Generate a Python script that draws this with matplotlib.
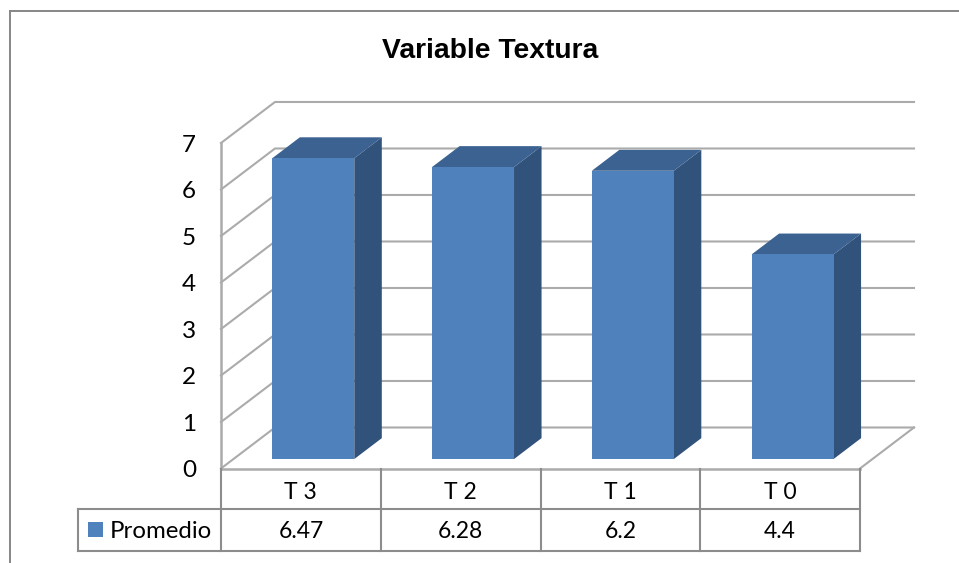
import matplotlib
matplotlib.use("Agg")
import matplotlib.pyplot as plt
from matplotlib.lines import Line2D
from matplotlib.patches import Polygon, Rectangle

categories = ["T 3", "T 2", "T 1", "T 0"]
values = [6.47, 6.28, 6.2, 4.4]
value_labels = ["6.47", "6.28", "6.2", "4.4"]
y_ticks = [0, 1, 2, 3, 4, 5, 6, 7]
series_name = "Promedio"
title = "Variable Textura"

W, H = 959, 563
GRID = "#ababab"
TABLE = "#8c8c8c"
FONT = "Lato"

# depth of the 3d box, in data units
DX = 0.338
DY = 0.882
BAR_W = 0.513
BAR_D0 = 0.23
BAR_D1 = 0.74
ROW1 = -0.871
ROW2 = -1.768
TABLE_LEFT = -0.895


def proj(x, y, d=0):
    return (x + d * DX, y + d * DY)


fig = plt.figure(figsize=(W / 100, H / 100), dpi=100)
ax = fig.add_axes([221 / W, 1 - 468.5 / H, 639 / W, 325.5 / H])
ax.set_xlim(0, 4)
ax.set_ylim(0, 7)
ax.axis("off")

# outer frame, only top and left are visible
fig.add_artist(Line2D([9.5 / W, 9.5 / W], [0, 1 - 10 / H], color="#868686", lw=1.4, solid_capstyle="butt"))
fig.add_artist(Line2D([9 / W, 1], [1 - 10.5 / H, 1 - 10.5 / H], color="#868686", lw=1.4, solid_capstyle="butt"))

# walls and floor
for t in y_ticks:
    a = proj(0, t)
    b = proj(0, t, 1)
    c = proj(4, t, 1)
    ax.plot([a[0], b[0], c[0]], [a[1], b[1], c[1]], color=GRID, lw=1.5, clip_on=False, zorder=1)
f = proj(4, 0)
g = proj(4, 0, 1)
ax.plot([f[0], g[0]], [f[1], g[1]], color=GRID, lw=1.5, clip_on=False, zorder=1)
ax.plot([0, 0], [0, 7], color=GRID, lw=1.8, clip_on=False, zorder=2)
ax.plot([0, 4], [0, 0], color=GRID, lw=1.8, clip_on=False, zorder=2)

# bars
for i, v in enumerate(values):
    x0 = i + 0.5 - BAR_W / 2
    x1 = i + 0.5 + BAR_W / 2
    front = [proj(x0, 0, BAR_D0), proj(x1, 0, BAR_D0), proj(x1, v, BAR_D0), proj(x0, v, BAR_D0)]
    top = [proj(x0, v, BAR_D0), proj(x1, v, BAR_D0), proj(x1, v, BAR_D1), proj(x0, v, BAR_D1)]
    side = [proj(x1, 0, BAR_D0), proj(x1, 0, BAR_D1), proj(x1, v, BAR_D1), proj(x1, v, BAR_D0)]
    ax.add_patch(Polygon(side, closed=True, fc="#31527b", ec="none", zorder=3, clip_on=False))
    ax.add_patch(Polygon(top, closed=True, fc="#3b6291", ec="none", zorder=3, clip_on=False))
    ax.add_patch(Polygon(front, closed=True, fc="#4f81bd", ec="none", zorder=4, clip_on=False))

# y labels
for t in y_ticks:
    ax.annotate(str(t), (0, t), xytext=(-18, -1.5), textcoords="offset points", ha="right", va="center",
                fontsize=17.5, family=FONT, color="black", annotation_clip=False)

# data table
for x in range(5):
    ax.plot([x, x], [0, ROW2], color=TABLE, lw=1.5, clip_on=False, zorder=2)
ax.plot([TABLE_LEFT, 4], [ROW1, ROW1], color=TABLE, lw=1.5, clip_on=False, zorder=2)
ax.plot([TABLE_LEFT, 4], [ROW2, ROW2], color=TABLE, lw=1.5, clip_on=False, zorder=2)
ax.plot([TABLE_LEFT, TABLE_LEFT], [ROW1, ROW2], color=TABLE, lw=1.5, clip_on=False, zorder=2)

for i, c in enumerate(categories):
    ax.text(i + 0.5, ROW1 / 2 - 0.09, c, ha="center", va="center", fontsize=16.5, family=FONT, clip_on=False)
    ax.text(i + 0.5, (ROW1 + ROW2) / 2 - 0.04, value_labels[i], ha="center", va="center", fontsize=16.5, family=FONT, clip_on=False)

ax.add_patch(Rectangle((-0.8326, -1.473), 0.094, 0.323, fc="#4f81bd", ec="none", clip_on=False, zorder=3))
ax.text(-0.695, (ROW1 + ROW2) / 2 - 0.04, series_name, ha="left", va="center", fontsize=17.3, family=FONT, clip_on=False)

fig.text(490 / W, 1 - 51 / H, title, ha="center", va="center", fontsize=20.3,
         fontweight="bold", family="Liberation Sans")

fig.savefig("out.png", dpi=100)
plt.close(fig)
